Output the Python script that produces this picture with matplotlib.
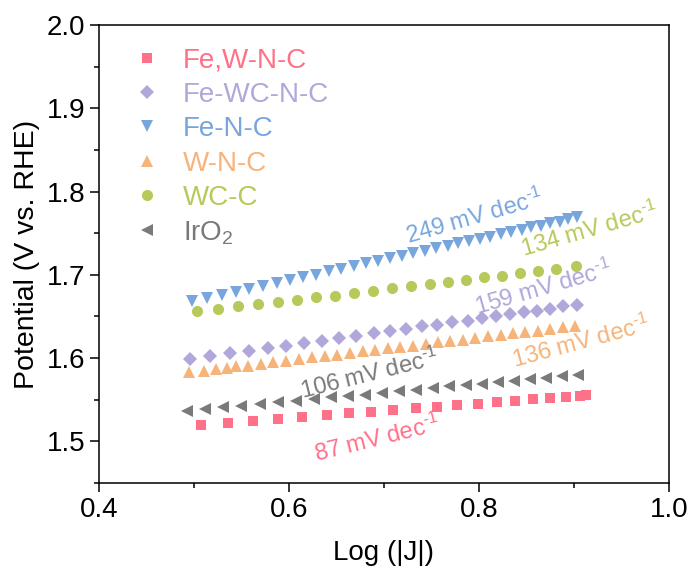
import matplotlib
matplotlib.use("Agg")
import matplotlib.pyplot as plt
from matplotlib.ticker import MultipleLocator

plt.rcParams['font.family'] = ['Liberation Sans', 'DejaVu Sans']
plt.rcParams['mathtext.fontset'] = 'custom'
plt.rcParams['mathtext.rm'] = 'Liberation Sans'
plt.rcParams['mathtext.it'] = 'Liberation Sans:italic'

# Tafel data: log|J| and potential for each catalyst
fewnc_x = [0.507, 0.536, 0.562, 0.588, 0.614, 0.640, 0.663, 0.686, 0.709, 0.734,
           0.756, 0.777, 0.799, 0.819, 0.838, 0.857, 0.875, 0.892, 0.906, 0.913]
fewnc_y = [1.520, 1.5225, 1.5248, 1.527, 1.5293, 1.5316, 1.5336, 1.5356, 1.5376, 1.5397,
           1.5417, 1.5435, 1.5454, 1.5471, 1.5488, 1.5505, 1.552, 1.5535, 1.5547, 1.5553]

fewcnc_x = [0.496, 0.517, 0.538, 0.558, 0.578, 0.597, 0.616, 0.635, 0.653, 0.671,
            0.689, 0.706, 0.723, 0.740, 0.756, 0.772, 0.788, 0.803, 0.818, 0.833,
            0.847, 0.861, 0.875, 0.889, 0.903]
fewcnc_y = [1.599, 1.602, 1.606, 1.609, 1.612, 1.615, 1.618, 1.621, 1.624, 1.627,
            1.630, 1.632, 1.635, 1.638, 1.640, 1.643, 1.645, 1.648, 1.650, 1.653,
            1.655, 1.657, 1.659, 1.662, 1.664]

fenc_x = [0.498, 0.514, 0.529, 0.544, 0.558, 0.573, 0.587, 0.601, 0.615, 0.628,
          0.642, 0.655, 0.668, 0.681, 0.694, 0.706, 0.719, 0.731, 0.743, 0.755,
          0.767, 0.778, 0.790, 0.801, 0.812, 0.823, 0.834, 0.845, 0.855, 0.865,
          0.875, 0.885, 0.894, 0.903]
fenc_y = [1.668, 1.672, 1.676, 1.679, 1.683, 1.687, 1.690, 1.694, 1.697, 1.700,
          1.704, 1.707, 1.710, 1.714, 1.717, 1.720, 1.723, 1.726, 1.729, 1.732,
          1.735, 1.738, 1.741, 1.743, 1.746, 1.749, 1.752, 1.754, 1.757, 1.759,
          1.762, 1.764, 1.767, 1.769]

wnc_x = [0.495, 0.511, 0.523, 0.535, 0.544, 0.557, 0.571, 0.583, 0.597, 0.611,
         0.624, 0.638, 0.651, 0.664, 0.678, 0.691, 0.704, 0.717, 0.731, 0.744,
         0.757, 0.770, 0.783, 0.796, 0.810, 0.823, 0.836, 0.849, 0.862, 0.875,
         0.888, 0.901]
wnc_y = [1.583, 1.585, 1.587, 1.588, 1.590, 1.591, 1.593, 1.595, 1.597, 1.599,
         1.601, 1.603, 1.604, 1.606, 1.608, 1.610, 1.612, 1.613, 1.615, 1.617,
         1.619, 1.621, 1.622, 1.624, 1.626, 1.628, 1.630, 1.631, 1.633, 1.635,
         1.637, 1.639]

wcc_x = [0.503, 0.525, 0.546, 0.567, 0.588, 0.608, 0.628, 0.648, 0.668, 0.688,
         0.708, 0.728, 0.748, 0.767, 0.786, 0.805, 0.824, 0.843, 0.862, 0.881, 0.902]
wcc_y = [1.656, 1.659, 1.662, 1.665, 1.667, 1.670, 1.673, 1.675, 1.678, 1.681,
         1.684, 1.686, 1.689, 1.691, 1.694, 1.697, 1.699, 1.702, 1.704, 1.707, 1.710]

iro2_x = [0.493, 0.512, 0.531, 0.550, 0.569, 0.588, 0.607, 0.626, 0.644, 0.662,
          0.680, 0.698, 0.716, 0.734, 0.752, 0.769, 0.786, 0.803, 0.820, 0.837,
          0.854, 0.871, 0.887, 0.904]
iro2_y = [1.537, 1.539, 1.541, 1.543, 1.545, 1.547, 1.549, 1.551, 1.553, 1.555,
          1.556, 1.558, 1.560, 1.562, 1.564, 1.566, 1.568, 1.569, 1.571, 1.573,
          1.575, 1.576, 1.578, 1.580]

labels = ['Fe,W-N-C', 'Fe-WC-N-C', 'Fe-N-C', 'W-N-C', 'WC-C', r'IrO$_\mathregular{2}$']
tafel_slopes = [87, 159, 249, 136, 134, 106]

colors = ['#FF7189', '#B1A7DA', '#78A6DC', '#F6B47A', '#B7C95A', '#7A7A7A']
markers = ['s', 'D', 'v', '^', 'o', '<']
sizes = [7, 7, 9, 9, 8, 8]

series = [(fewnc_x, fewnc_y), (fewcnc_x, fewcnc_y), (fenc_x, fenc_y),
          (wnc_x, wnc_y), (wcc_x, wcc_y), (iro2_x, iro2_y)]

fig = plt.figure(figsize=(6.91, 5.77), dpi=100)
ax = fig.add_axes([0.1433, 0.1629, 0.8247, 0.7938])

for (xs, ys), lab, c, m, s in zip(series, labels, colors, markers, sizes):
    ax.plot(xs, ys, linestyle='none', marker=m, markersize=s,
            color=c, markeredgewidth=0, label=lab)

# Tafel slope annotations (center x, center y, rotation)
ann_pos = [(0.693, 1.503, 14), (0.868, 1.684, 16), (0.795, 1.769, 16),
           (0.908, 1.619, 15), (0.917, 1.754, 16), (0.685, 1.581, 14)]
for slope, c, (tx, ty, rot) in zip(tafel_slopes, colors, ann_pos):
    ax.text(tx, ty, f'{slope} mV dec' + r'$^{\mathregular{\text{-}1}}$', color=c,
            fontsize=17, rotation=rot, rotation_mode='anchor',
            ha='center', va='center')

ax.set_xlim(0.4, 1.0)
ax.set_ylim(1.45, 2.0)
ax.xaxis.set_major_locator(MultipleLocator(0.2))
ax.xaxis.set_minor_locator(MultipleLocator(0.1))
ax.yaxis.set_major_locator(MultipleLocator(0.1))
ax.yaxis.set_minor_locator(MultipleLocator(0.05))
ax.tick_params(which='both', direction='out', top=False, right=False,
               labelsize=20, width=1.1)
ax.tick_params(which='major', length=6.5)
ax.tick_params(which='minor', length=3.5)
for sp in ax.spines.values():
    sp.set_linewidth(1.1)

ax.set_xlabel('Log (|J|)', fontsize=20, labelpad=12)
ax.set_ylabel('Potential (V vs. RHE)', fontsize=20.5, labelpad=5)

ax.legend(loc='upper left', bbox_to_anchor=(0.04, 0.975), frameon=False,
          fontsize=20, handlelength=1.0, handletextpad=0.8, labelspacing=0.3,
          borderaxespad=0, labelcolor='markerfacecolor')

fig.savefig('out.png', dpi=100)
